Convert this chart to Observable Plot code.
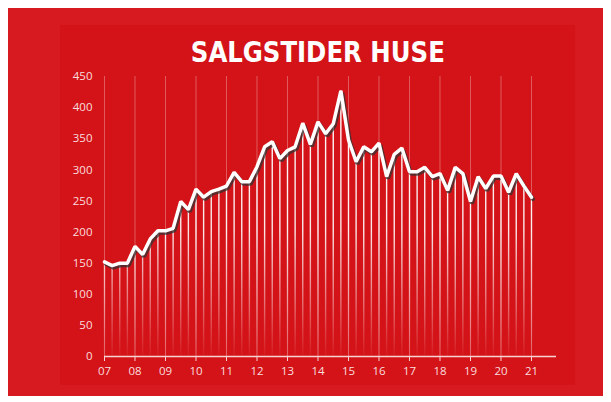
<!DOCTYPE html>
<html><head><meta charset="utf-8">
<script src="https://cdn.jsdelivr.net/npm/d3@7"></script>
<script src="https://cdn.jsdelivr.net/npm/@observablehq/plot@0.6"></script>
<style>
html,body{margin:0;padding:0;background:#fff;width:611px;height:402px;overflow:hidden}
#outer{position:absolute;left:8px;top:8px;width:595px;height:388px;background:#d71920}
#inner{position:absolute;left:60px;top:25px;width:515px;height:360px;background:#d41318}
#titlewrap{position:absolute;left:60px;top:34px;width:515px;text-align:center;line-height:36px}
#title{display:inline-block;color:#fff;font-weight:bold;font-size:29px;font-family:"DejaVu Sans",sans-serif;font-stretch:condensed;transform-origin:50% 50%}
#chart{position:absolute;left:60px;top:64px}
</style></head>
<body>
<div id="outer"></div>
<div id="inner"></div>
<div id="titlewrap"><span id="title">SALGSTIDER HUSE</span></div>
<div id="chart"></div>
<script>
const startYear = 2007;
// quarterly values, 2007 Q1 .. 2021 Q1
const values = [152,146,150,150,177,164,189,202,202,206,249,236,269,256,265,269,
  274,296,281,281,305,337,345,318,331,337,375,341,377,358,374,427,
  348,313,337,329,343,289,325,335,297,297,304,289,294,267,304,294,
  249,289,270,290,290,264,294,274,256];
const tickYears = [2007,2008,2009,2010,2011,2012,2013,2014,2015,2016,2017,2018,2019,2020,2021];
const tickLabels = ["07","08","09","10","11","12","13","14","15","16","17","18","19","20","21"];
const yTicks = [0,50,100,150,200,250,300,350,400,450];

const data = values.map((v, i) => ({x: startYear + i / 4, y: v}));

const defs = () => {
  const g = d3.create("svg:defs");
  const lg = g.append("linearGradient").attr("id", "fade")
    .attr("gradientUnits", "userSpaceOnUse")
    .attr("x1", 0).attr("x2", 0).attr("y1", 12).attr("y2", 292);
  lg.append("stop").attr("offset", "0%").attr("stop-color", "#fff").attr("stop-opacity", 1);
  lg.append("stop").attr("offset", "55%").attr("stop-color", "#fff").attr("stop-opacity", 0.9);
  lg.append("stop").attr("offset", "100%").attr("stop-color", "#fff").attr("stop-opacity", 0.03);
  return g.node();
};

const chart = Plot.plot({
  width: 515,
  height: 321,
  marginLeft: 44,
  marginRight: 19,
  marginTop: 12,
  marginBottom: 29,
  x: {domain: [2007, 2021.82]},
  y: {domain: [0, 450]},
  style: {background: "transparent", color: "#f9dede", fontFamily: "'Open Sans', sans-serif", fontSize: "11.5px"},
  marks: [
    defs,
    Plot.ruleX(tickYears, {x: d => d, y1: 0, y2: 450, stroke: "#fff", strokeOpacity: 0.3, strokeWidth: 1}),
    Plot.ruleX(data, {x: "x", y1: 0, y2: "y", stroke: "url(#fade)", strokeWidth: 1.4}),
    Plot.line(data, {x: "x", y: "y", stroke: "#333", strokeOpacity: 0.75, strokeWidth: 4, dx: 1.5, dy: 2, strokeLinejoin: "miter"}),
    Plot.line(data, {x: "x", y: "y", stroke: "#fff", strokeWidth: 3.5, strokeLinejoin: "miter"}),
    Plot.ruleY([0], {stroke: "#f6d4d4", strokeWidth: 1.5}),
    Plot.axisX({ticks: tickYears, tickFormat: d => tickLabels[tickYears.indexOf(d)], tickSize: 5, tickPadding: 5, stroke: "#f6d4d4", label: null}),
    Plot.axisY({ticks: yTicks, tickSize: 0, tickPadding: 12, label: null})
  ]
});
document.getElementById("chart").appendChild(chart);

// fit title to reference width
const t = document.getElementById("title");
const w = t.getBoundingClientRect().width;
const target = 254;
if (w > 0) t.style.transform = `scaleX(${target / w})`;
</script>
</body></html>
